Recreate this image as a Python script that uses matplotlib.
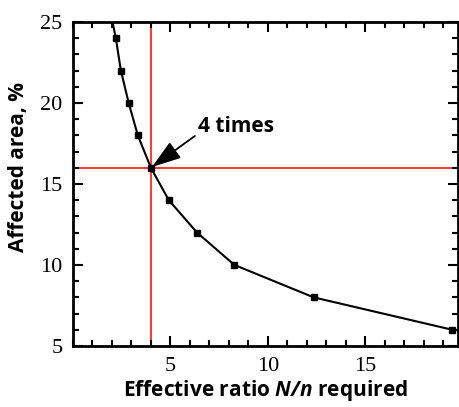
import matplotlib
matplotlib.use("Agg")
import matplotlib.pyplot as plt
from matplotlib.ticker import MultipleLocator

# ── data ─────────────────────────────────────────────────────────────────────
ratio = [2.03, 2.2, 2.46, 2.86, 3.33, 4.0, 4.92, 6.37, 8.29, 12.36, 19.47]
area = [25.0, 24, 22, 20, 18, 16, 14, 12, 10, 8, 6]
mark_x = ratio[1:]
mark_y = area[1:]
cross_x, cross_y = 4.0, 16.0

plt.rcParams["mathtext.fontset"] = "custom"
plt.rcParams["mathtext.bfit"] = "Open Sans:italic:bold"
plt.rcParams["mathtext.bf"] = "Open Sans:bold"

fig = plt.figure(figsize=(4.59, 4.07), dpi=100)
ax = fig.add_axes([0.159, 0.150, 0.838, 0.796])

ax.axvline(cross_x, color="red", lw=1.1, zorder=1)
ax.axhline(cross_y, color="red", lw=1.1, zorder=1)
ax.plot(ratio, area, color="black", lw=1.5, zorder=2)
ax.plot(mark_x, mark_y, ls="none", marker="s", ms=5, color="black", zorder=3)

ax.annotate("4 times", xy=(cross_x, cross_y), xytext=(6.4, 18.2),
            fontsize=15, fontweight="bold", family="Open Sans", va="baseline",
            arrowprops=dict(arrowstyle="-|>,head_length=1.2,head_width=0.4",
                            color="black", lw=1.3, shrinkA=0, shrinkB=1,
                            relpos=(0.0, 0.15)))

ax.set_xlim(0, 19.75)
ax.set_ylim(5, 25)
ax.set_xticks([5, 10, 15])
ax.set_yticks([5, 10, 15, 20, 25])
ax.xaxis.set_minor_locator(MultipleLocator(1))
ax.yaxis.set_minor_locator(MultipleLocator(1))
ax.tick_params(which="both", direction="in", top=True, right=True, width=1.5)
ax.tick_params(which="major", length=7)
ax.tick_params(which="minor", length=4)
ax.tick_params(labelsize=16, labelright=False, labeltop=False)
ax.tick_params(axis="x", pad=8.3)
ax.tick_params(axis="y", pad=7.5)
for lab in ax.get_xticklabels() + ax.get_yticklabels():
    lab.set_family("Liberation Serif")
for s in ax.spines.values():
    s.set_linewidth(2)

ax.set_xlabel(r"Effective ratio $\mathbfit{N/n}$ required", fontsize=15,
              fontweight="bold", family="Open Sans", labelpad=1.0)
ax.set_ylabel("Affected area, %", fontsize=15, fontweight="bold",
              family="Open Sans")
ax.yaxis.set_label_coords(-0.115, 0.552)

fig.savefig("out.png", dpi=100)
